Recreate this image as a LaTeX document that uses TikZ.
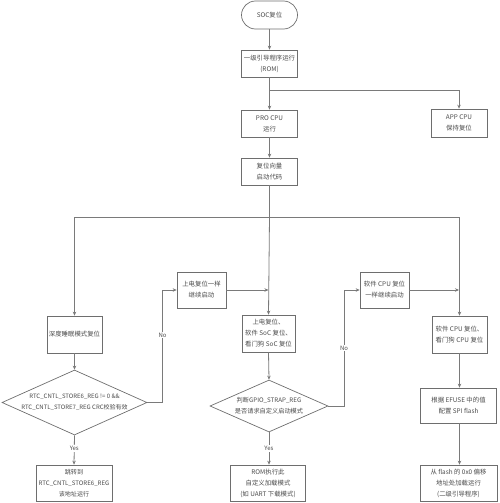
\documentclass[tikz,border=0pt]{standalone}
\usepackage{fontspec}
\setmainfont{Noto Sans CJK SC}
\usetikzlibrary{shapes.geometric,arrows.meta}
\definecolor{ln}{HTML}{7A7A7A}
\definecolor{bd}{HTML}{6E6E6E}
\definecolor{tx}{HTML}{4A4A4A}
\tikzset{
  box/.style={draw=bd,line width=0.7pt,rectangle,align=center,inner sep=1pt,
    text=tx,font=\fontsize{6.4}{11}\selectfont},
  term/.style={box,rounded corners=14pt},
  dia/.style={draw=bd,line width=0.7pt,diamond,align=center,inner sep=0pt,
    text=tx,font=\fontsize{6.4}{11}\selectfont},
  arr/.style={draw=ln,line width=0.8pt,-{Stealth[length=4pt,width=3.5pt]}},
  ln/.style={draw=ln,line width=0.8pt},
  lbl/.style={fill=white,inner sep=1pt,text=tx,font=\fontsize{6}{7}\selectfont}
}
\begin{document}
\begin{tikzpicture}[x=1pt,y=-1pt]
\useasboundingbox (0,0) rectangle (500,503);
% nodes
\node[term,minimum width=56pt,minimum height=28pt] (start) at (269.5,15) {SOC复位};
\node[box,minimum width=56pt,minimum height=27pt] (rom) at (269.5,63.5) {一级引导程序运行\\(ROM)};
\node[box,minimum width=56pt,minimum height=27pt] (pro) at (269.5,123.5) {PRO CPU\\运行};
\node[box,minimum width=56pt,minimum height=28pt] (app) at (459,123) {APP CPU\\保持复位};
\node[box,minimum width=56pt,minimum height=27pt] (vec) at (269.5,171.5) {复位向量\\启动代码};
\node[box,minimum width=55pt,minimum height=37pt] (deep) at (74.5,334.5) {深度睡眠模式复位};
\node[dia,minimum width=145pt,minimum height=65pt,aspect=2.23] (d1) at (74.5,402.5) {};
\node[text=tx,align=center,font=\fontsize{6}{11}\selectfont] (d1t) at (74.5,402.5) {RTC\_CNTL\_STORE6\_REG != 0 \&\&\\RTC\_CNTL\_STORE7\_REG CRC校验有效};
\node[box,minimum width=76pt,minimum height=36pt,font=\fontsize{6.1}{11}\selectfont] (jump) at (74,483) {跳转到\\RTC\_CNTL\_STORE6\_REG\\该地址运行};
\node[box,minimum width=49pt,minimum height=36pt] (poc1) at (201.5,290) {上电复位一样\\继续启动};
\node[box,minimum width=53pt,minimum height=37pt] (mid) at (268.5,333.5) {上电复位、\\软件 SoC 复位、\\看门狗 SoC 复位};
\node[dia,minimum width=118pt,minimum height=52pt,aspect=2.27] (d2) at (269,406) {};
\node[text=tx,align=center,font=\fontsize{6.2}{11}\selectfont] (d2t) at (269,406) {判断GPIO\_STRAP\_REG\\是否请求自定义启动模式};
\node[box,minimum width=75pt,minimum height=36pt] (romexec) at (268,483) {ROM执行此\\自定义加载模式\\(如 UART 下载模式)};
\node[box,minimum width=49pt,minimum height=36pt] (sw1) at (384.5,290) {软件 CPU 复位\\一样继续启动};
\node[box,minimum width=55pt,minimum height=37pt] (rbox) at (459.5,334.5) {软件 CPU 复位、\\看门狗 CPU 复位};
\node[box,minimum width=76pt,minimum height=35pt] (efuse) at (458.5,405.5) {根据 EFUSE 中的值\\配置 SPI flash};
\node[box,minimum width=77pt,minimum height=36pt] (flash) at (458.5,483) {从 flash 的 0x0 偏移\\地址处加载运行\\(二级引导程序)};
% coordinates
\coordinate (br1) at (269.5,90);
\coordinate (hb) at (269.5,217);
\coordinate (n1) at (162.5,402.5);
\coordinate (m1) at (268.5,290);
\coordinate (n2) at (344,406);
\coordinate (m2) at (459,290);
% connectors
\draw[arr] (start) -- (rom);
\draw[arr] (rom) -- (pro);
\draw[arr] (br1) -| (app.north);
\draw[arr] (pro) -- (vec);
\draw[ln] (vec.south) -- (hb);
\draw[arr] (hb) -| (deep.north);
\draw[arr] (hb) -| (rbox.north);
\draw[arr] (hb) -- (mid.north);
\draw[arr] (deep) -- (d1.north);
\draw[arr] (d1.south) -- node[lbl,pos=0.45]{Yes} (jump.north);
\draw[arr] (d1.east) -- (n1) |- node[lbl,pos=0.3]{No} (poc1.west);
\draw[arr] (poc1.east) -- (m1);
\draw[arr] (mid.south) -- (d2.north);
\draw[arr] (d2.south) -- node[lbl,pos=0.5]{Yes} (d2.south |- romexec.north);
\draw[arr] (d2.east) -- (n2) |- node[lbl,pos=0.25]{No} (sw1.west);
\draw[arr] (sw1.east) -- (m2);
\draw[arr] (rbox) -- (rbox.south |- efuse.north);
\draw[arr] (efuse.south -| rbox.south) -- (rbox.south |- flash.north);
\end{tikzpicture}
\end{document}
